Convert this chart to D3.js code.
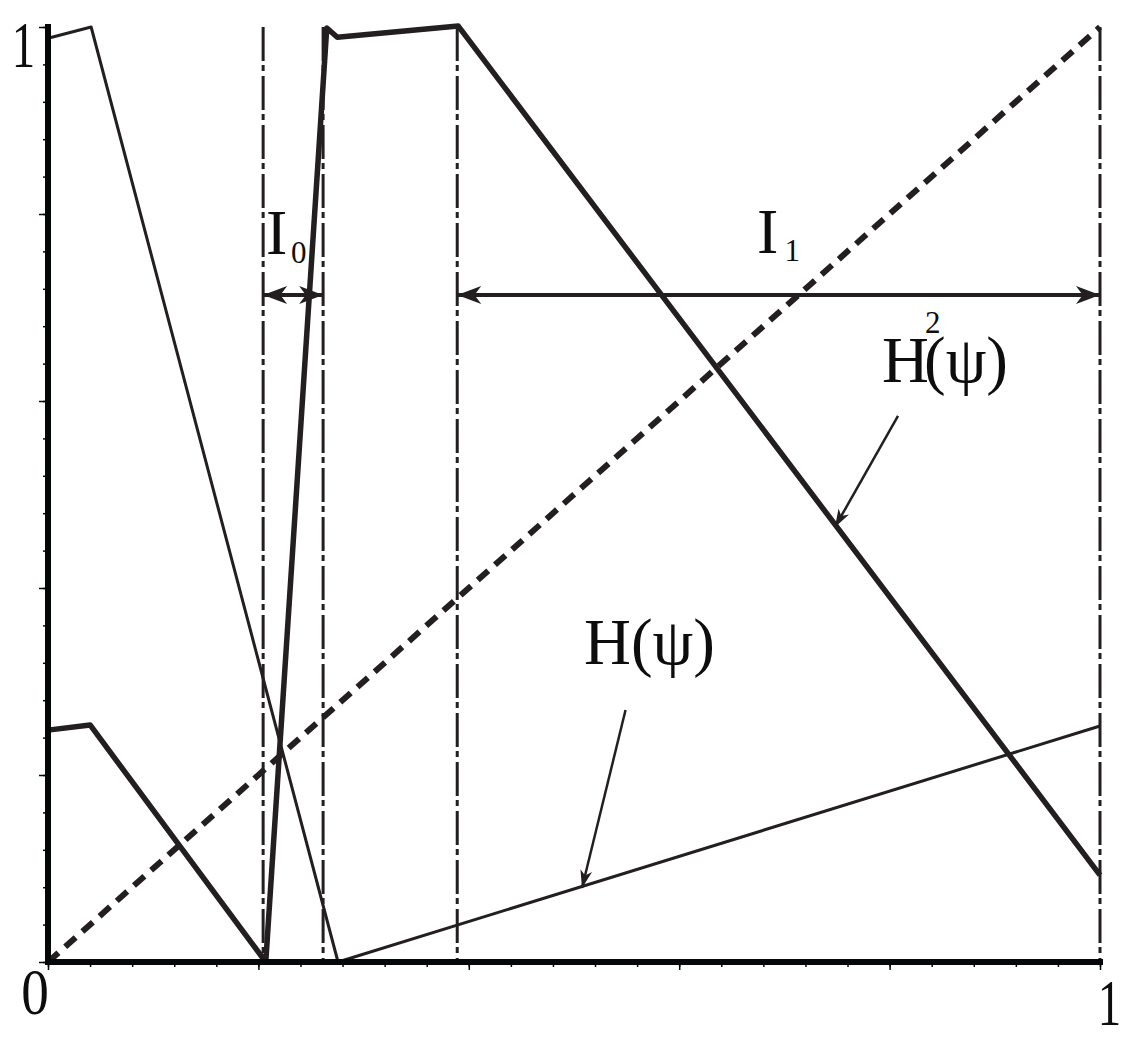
<!DOCTYPE html>
<html>
<head>
<meta charset="utf-8">
<script src="https://cdn.jsdelivr.net/npm/d3@7"></script>
<style>
  html, body { margin: 0; padding: 0; background: #fff; }
  svg { display: block; }
  text { font-family: "Liberation Serif", "Times New Roman", serif; fill: #0d0d0d; }
</style>
</head>
<body>
<svg id="chart"></svg>
<script>
const width = 1130;
const height = 1040;
const margin = { left: 48, right: 30, top: 27, bottom: 78 };
const ink = '#231f20';

// curves, [psi, value]
const hPsi = [[0, 0.988], [0.041, 1.0], [0.2757, 0], [1, 0.2524]];
const h2Psi = [[0, 0.248], [0.040, 0.2535], [0.207, 0], [0.265, 0.999],
  [0.275, 0.989], [0.390, 1.001], [1, 0.093]];
const diagonal = [[0, 0], [1, 1]];

// interval borders (dash-dot) and the two intervals
const intervalEdges = [0.2045, 0.2615, 0.389, 1];
const intervalBounds = [[0.2045, 0.2615], [0.389, 1]];
const intervalLevel = 0.7134;

// ticks
const majorTicks = [0, 0.2, 0.4, 0.6, 0.8, 1];
const minorTicks = d3.range(0, 26).map(i => i * 0.04);
const axisLabels = ['0', '1'];

// labels (each a list of pieces) and pointer arrows, in data units
const labels = [
  [{ text: 'H(ψ)', x: 0.5095, y: 0.3187, size: 65 }],
  [{ text: 'H', x: 0.7928, y: 0.6203, size: 65 },
    { text: '2', x: 0.8337, y: 0.6727, size: 31 },
    { text: '(ψ)', x: 0.8327, y: 0.6203, size: 65 }],
  [{ text: 'I', x: 0.2072, y: 0.7572, size: 64 },
    { text: '0', x: 0.2310, y: 0.7476, size: 31 }],
  [{ text: 'I', x: 0.6740, y: 0.7583, size: 64 },
    { text: '1', x: 0.7001, y: 0.7497, size: 31 }],
];
const pointers = [
  { from: [0.549, 0.2695], to: [0.5076, 0.0791] },
  { from: [0.808, 0.584], to: [0.748, 0.465] },
];

const x = d3.scaleLinear().domain([0, 1]).range([margin.left, width - margin.right]);
const y = d3.scaleLinear().domain([0, 1]).range([height - margin.bottom, margin.top]);

const svg = d3.select('#chart')
  .attr('width', width)
  .attr('height', height);

const line = d3.line().x(d => x(d[0])).y(d => y(d[1]));

function arrowHead(tip, from, len, half) {
  const dx = tip[0] - from[0];
  const dy = tip[1] - from[1];
  const l = Math.sqrt(dx * dx + dy * dy);
  const ux = dx / l;
  const uy = dy / l;
  const bx = tip[0] - ux * len;
  const by = tip[1] - uy * len;
  const nx = tip[0] - ux * len * 0.72;
  const ny = tip[1] - uy * len * 0.72;
  return [[tip[0], tip[1]], [bx - uy * half, by + ux * half], [nx, ny], [bx + uy * half, by - ux * half]];
}

// ===========================================================================
//      dash-dot interval borders
// ===========================================================================
svg.append('g')
  .selectAll('line')
  .data(intervalEdges)
  .enter()
  .append('line')
  .attr('x1', d => x(d))
  .attr('x2', d => x(d))
  .attr('y1', y(1))
  .attr('y2', y(0))
  .attr('stroke', ink)
  .attr('stroke-width', 3)
  .attr('stroke-dasharray', '34,4,6,5');

// ===========================================================================
//      curves
// ===========================================================================
svg.append('path')
  .attr('d', line(diagonal))
  .attr('fill', 'none')
  .attr('stroke', ink)
  .attr('stroke-width', 6)
  .attr('stroke-dasharray', '14,9');

svg.append('path')
  .attr('d', line(hPsi))
  .attr('fill', 'none')
  .attr('stroke', ink)
  .attr('stroke-width', 3)
  .attr('stroke-linejoin', 'round');

svg.append('path')
  .attr('d', line(h2Psi))
  .attr('fill', 'none')
  .attr('stroke', ink)
  .attr('stroke-width', 5.5)
  .attr('stroke-linejoin', 'round');

// ===========================================================================
//      axes
// ===========================================================================
const xMinor = d3.axisBottom(x).tickValues(minorTicks).tickSize(5).tickFormat('').tickSizeOuter(0);
const xMajor = d3.axisBottom(x).tickValues(majorTicks).tickSize(8).tickFormat('').tickSizeOuter(0);
const yMinor = d3.axisLeft(y).tickValues(minorTicks).tickSize(5).tickFormat('').tickSizeOuter(0);
const yMajor = d3.axisLeft(y).tickValues(majorTicks).tickSize(9).tickFormat('').tickSizeOuter(0);

[xMinor, xMajor].forEach(function (ax) {
  svg.append('g')
    .attr('transform', `translate(0,${y(0)})`)
    .call(ax)
    .call(g => g.select('.domain').remove())
    .call(g => g.selectAll('line').attr('stroke', '#050808').attr('stroke-width', 1.5));
});
[yMinor, yMajor].forEach(function (ax) {
  svg.append('g')
    .attr('transform', `translate(${x(0)},0)`)
    .call(ax)
    .call(g => g.select('.domain').remove())
    .call(g => g.selectAll('line').attr('stroke', '#050808').attr('stroke-width', 1.5));
});

svg.append('line')
  .attr('x1', x(0)).attr('x2', x(1))
  .attr('y1', y(0)).attr('y2', y(0))
  .attr('stroke', '#050808')
  .attr('stroke-width', 6)
  .attr('stroke-linecap', 'square');
svg.append('line')
  .attr('x1', x(0)).attr('x2', x(0))
  .attr('y1', y(0)).attr('y2', y(1))
  .attr('stroke', '#050808')
  .attr('stroke-width', 6)
  .attr('stroke-linecap', 'square');

// axis labels: 0 in the corner, 1 at the end of each axis
const axisLabelPos = [
  { text: axisLabels[0], px: x(0) - 13, py: y(0) + 52, sx: 0.85 },
  { text: axisLabels[1], px: x(0) - 24.5, py: y(1) + 40, sx: 0.72 },
  { text: axisLabels[1], px: x(1) + 9.5, py: y(0) + 63, sx: 0.72 },
];
svg.append('g')
  .selectAll('text')
  .data(axisLabelPos)
  .enter()
  .append('text')
  .attr('transform', d => `translate(${d.px},${d.py}) scale(${d.sx},1)`)
  .attr('text-anchor', 'middle')
  .attr('font-size', 65)
  .text(d => d.text);

// ===========================================================================
//      interval arrows
// ===========================================================================
intervalBounds.forEach(function (b) {
  const p1 = [x(b[0]), y(intervalLevel)];
  const p2 = [x(b[1]), y(intervalLevel)];
  svg.append('line')
    .attr('x1', p1[0]).attr('x2', p2[0])
    .attr('y1', p1[1]).attr('y2', p2[1])
    .attr('stroke', ink)
    .attr('stroke-width', 4);
  [arrowHead(p1, p2, 24, 9), arrowHead(p2, p1, 24, 9)].forEach(function (pts) {
    svg.append('polygon')
      .attr('points', pts.map(p => p.join(',')).join(' '))
      .attr('fill', ink);
  });
});

// ===========================================================================
//      pointers and labels
// ===========================================================================
pointers.forEach(function (p) {
  const a = [x(p.from[0]), y(p.from[1])];
  const b = [x(p.to[0]), y(p.to[1])];
  svg.append('line')
    .attr('x1', a[0]).attr('y1', a[1])
    .attr('x2', b[0]).attr('y2', b[1])
    .attr('stroke', ink)
    .attr('stroke-width', 2.5);
  svg.append('polygon')
    .attr('points', arrowHead(b, a, 18, 6).map(q => q.join(',')).join(' '))
    .attr('fill', ink);
});

const labelText = svg.append('g')
  .selectAll('text')
  .data(labels)
  .enter()
  .append('text');

labelText.selectAll('tspan')
  .data(d => d)
  .enter()
  .append('tspan')
  .attr('x', d => x(d.x))
  .attr('y', d => y(d.y))
  .attr('font-size', d => d.size)
  .text(d => d.text);
</script>
</body>
</html>
